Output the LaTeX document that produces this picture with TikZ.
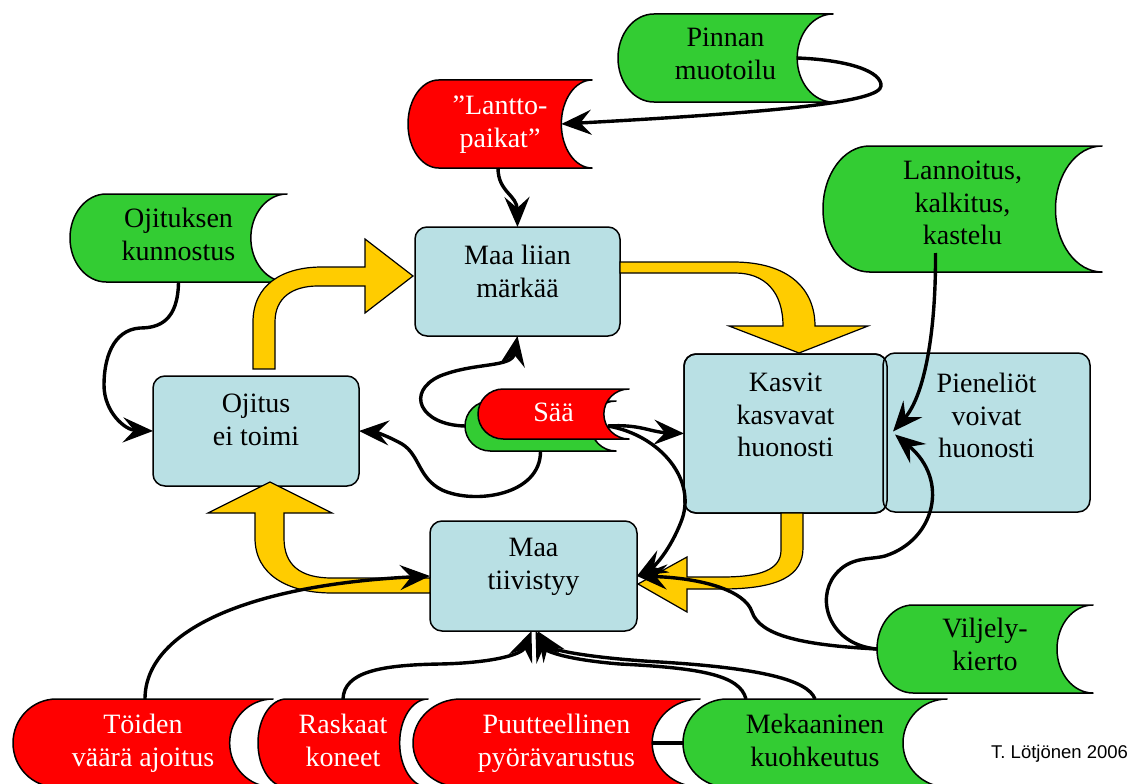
\documentclass[tikz,border=0pt]{standalone}
\usepackage{fontspec}
\setmainfont{Liberation Serif}
\newfontfamily\credfont{Liberation Sans}
\usetikzlibrary{arrows.meta,calc}
\definecolor{grn}{RGB}{51,204,51}
\definecolor{rd}{RGB}{255,0,0}
\definecolor{ylw}{RGB}{255,204,0}
\definecolor{lblue}{RGB}{185,224,228}
\tikzset{
 sdline/.style={draw=black, line width=1.5pt, line join=round},
 sdframe/.style={draw=none, inner sep=0pt, outer sep=0pt, rectangle},
 boxst/.style={draw=black, line width=1.5pt, fill=lblue, rounded corners=12pt, inner sep=0pt, outer sep=0pt, rectangle},
 txt/.style={font=\fontsize{28}{32.5}\selectfont, align=center, inner sep=0pt, anchor=north},
 wtxt/.style={txt, text=white},
 btxt/.style={txt, text=black},
 yarrow/.style={fill=ylw, draw=black, line width=1.2pt, line join=miter},
 conn/.style={draw=black, line width=3.4pt, -{Stealth[length=30pt,width=25pt,inset=11pt]}},
 link/.style={draw=black, line width=3.4pt},
}
% stored-data shape: name, x1, y1, x2, y2, fill
\newcommand\sdshape[6]{%
  \pgfmathsetmacro\sdR{(#4-#2)/6}%
  \pgfmathsetmacro\sdM{(#3+#5)/2}%
  \pgfmathsetmacro\sdK{0.5523*\sdR}%
  \pgfmathsetmacro\sdH{0.5523*(#5-#3)/2}%
  \pgfmathsetmacro\sdA{#2+\sdR}%
  \pgfmathsetmacro\sdB{#4-\sdR}%
  \path[sdline, fill=#6] (\sdA,#3) -- (#4,#3)
    .. controls ({#4-\sdK},#3) and (\sdB,{\sdM-\sdH}) .. (\sdB,\sdM)
    .. controls (\sdB,{\sdM+\sdH}) and ({#4-\sdK},#5) .. (#4,#5)
    -- (\sdA,#5)
    .. controls ({\sdA-\sdK},#5) and (#2,{\sdM+\sdH}) .. (#2,\sdM)
    .. controls (#2,{\sdM-\sdH}) and ({\sdA-\sdK},#3) .. (\sdA,#3) -- cycle;
  \node[sdframe, minimum width={(#4-#2)*1pt}, minimum height={(#5-#3)*1pt}] (#1) at ({(#2+#4)/2},\sdM) {};
  \coordinate (#1-in) at (\sdB,\sdM);
}
% rounded box: name, x1, y1, x2, y2
\newcommand\mybox[5]{%
  \node[boxst, minimum width={(#4-#2)*1pt}, minimum height={(#5-#3)*1pt}] (#1) at ({(#2+#4)/2},{(#3+#5)/2}) {};
}
\begin{document}
\begin{tikzpicture}[x=1pt,y=-1pt]
\useasboundingbox (0,0) rectangle (1133,784);
\fill[white] (0,0) rectangle (1133,784);
\clip (0,0) rectangle (1133,784);

% stored data shapes
\sdshape{P}{618}{14}{833}{102}{grn}
\sdshape{L}{408}{80}{592}{168}{rd}
\sdshape{O}{70}{194}{287}{282}{grn}
\sdshape{La}{823}{146}{1102}{272}{grn}
\sdshape{V}{877}{605}{1093}{693}{grn}
\sdshape{Sg}{465}{401}{616}{451}{grn}
\sdshape{S}{478}{389}{629}{439}{rd}
\sdshape{T}{13}{699}{273}{787}{rd}
\sdshape{R}{258}{699}{428}{787}{rd}
\sdshape{Pu}{413}{699}{700}{787}{rd}
\sdshape{Me}{683}{699}{947}{787}{grn}

% boxes
\mybox{ML}{415}{227}{620}{336}
\mybox{Oj}{153}{376}{359}{486}
\mybox{K}{684}{354}{887}{513}
\mybox{Pi}{883}{353}{1090}{512}
\draw[line width=1.5pt, rounded corners=12pt] (K.north west) rectangle (K.south east);
\mybox{MT}{430}{521}{637}{631}

% yellow block arrows
\path[yarrow] (253,369) -- (253,322) .. controls (253,285) and (282,267) .. (322,267) -- (365,267) -- (365,239) -- (413,276) -- (365,313) -- (365,286) -- (318,286) .. controls (292,286) and (275,298) .. (275,322) -- (275,369) -- cycle;
\path[yarrow] (620,262) -- (733,262) .. controls (790,262) and (815,290) .. (815,326) -- (868,326) -- (799,353) -- (729,326) -- (783,326) .. controls (783,292) and (765,273) .. (735,273) -- (620,273) -- cycle;
\path[yarrow] (781,513) -- (781,550) .. controls (781,570) and (760,577) .. (722,577) -- (687,577) -- (687,557) -- (638,584) -- (687,612) -- (687,589) -- (722,589) .. controls (780,589) and (803,575) .. (803,548) -- (803,513) -- cycle;
\path[yarrow] (430,578) -- (332,578) .. controls (300,578) and (284,565) .. (284,538) -- (284,513) -- (332,513) -- (270,482) -- (208,513) -- (255,513) -- (255,538) .. controls (255,575) and (288,593) .. (332,593) -- (430,593) -- cycle;

% texts
\node[btxt] (P-t) at (725.5,28) {Pinnan\\muotoilu};
\node[wtxt] (L-t) at (500,96) {”Lantto-\\paikat”};
\node[btxt] (O-t) at (178.5,208) {Ojituksen\\kunnostus};
\node[btxt] (La-t) at (962.5,161) {Lannoitus,\\kalkitus,\\kastelu};
\node[btxt] (V-t) at (985,618) {Viljely-\\kierto};
\node[wtxt] (S-t) at (553.5,403) {Sää};
\node[wtxt] (T-t) at (143,714) {Töiden\\väärä ajoitus};
\node[wtxt] (R-t) at (343,714) {Raskaat\\koneet};
\node[wtxt] (Pu-t) at (556.5,714) {Puutteellinen\\pyörävarustus};
\node[btxt] (Me-t) at (815,714) {Mekaaninen\\kuohkeutus};
\node[btxt] (ML-t) at ($(ML.north)+(0,18)$) {Maa liian\\märkää};
\node[btxt] (Oj-t) at ($(Oj.north)+(0,18)$) {Ojitus\\ei toimi};
\node[btxt] (K-t) at ($(K.north)+(0,19)$) {Kasvit\\kasvavat\\huonosti};
\node[btxt] (Pi-t) at ($(Pi.north)+(0,20)$) {Pieneliöt\\voivat\\huonosti};
\node[btxt] (MT-t) at ($(MT.north)+(0,17)$) {Maa\\tiivistyy};
\node[font=\credfont\fontsize{18.5}{22}\selectfont, anchor=base west, inner sep=0pt] (cr) at (991,758) {T. Lötjönen 2006};

% connectors
\draw[conn] (P-in) .. controls (850,60) and (882,72) .. (881,86) .. controls (880,102) and (780,112) .. (L-in);
\draw[conn] ($(L.south)+(-2,0)$) .. controls (498,192) and (517,195) .. (ML.north);
\draw[conn] (O.south) .. controls (178,320) and (160,328) .. (140,328) .. controls (112,330) and (104,360) .. (104,385) .. controls (104,412) and (125,430) .. (Oj.west);
\draw[conn] (Sg.west) .. controls (420,425) and (405,392) .. (440,376) .. controls (475,362) and (512,368) .. (ML.south);
\draw[conn] (Sg.south) .. controls (541,495) and (475,505) .. (442,490) .. controls (418,478) and (420,455) .. (402,444) .. controls (388,436) and (375,432) .. (Oj.east);
\draw[conn] ($(S-in)+(4,12)$) .. controls (640,424) and (650,432) .. (K.west);
\draw[conn] ($(S-in)+(4,12)$) .. controls (660,435) and (698,480) .. (681,522) .. controls (670,550) and (655,566) .. (MT.east);
\draw[conn] ($(La.south)+(-27,-19)$) .. controls (936,330) and (925,395) .. ($(Pi.west)+(10,-1)$);
\draw[conn] (V.west) .. controls (830,645) and (815,600) .. (835,575) .. controls (850,556) and (870,560) .. (885,556) .. controls (935,540) and (950,480) .. ($(Pi.west)+(12,2)$);
\draw[conn] (V.west) .. controls (800,645) and (760,635) .. (752,612) .. controls (745,590) and (700,578) .. (MT.east);
\draw[conn] ($(T.north)+(2,0)$) .. controls (145,630) and (250,585) .. (MT.west);
\draw[conn] (R.north) .. controls (344,672) and (380,665) .. (440,664) .. controls (490,663) and (522,655) .. ($(MT.south)+(-2,0)$);
\draw[conn] ($(Me.north)+(-69,0)$) .. controls (740,675) and (700,668) .. (620,664) .. controls (570,660) and (545,652) .. ($(MT.south)+(2,0)$);
\draw[conn] (Me.north) .. controls (808,680) and (760,668) .. (660,662) .. controls (590,658) and (550,650) .. ($(MT.south)+(4,0)$);
\draw[link] (Pu-in) -- (Me.west);
\end{tikzpicture}
\end{document}
